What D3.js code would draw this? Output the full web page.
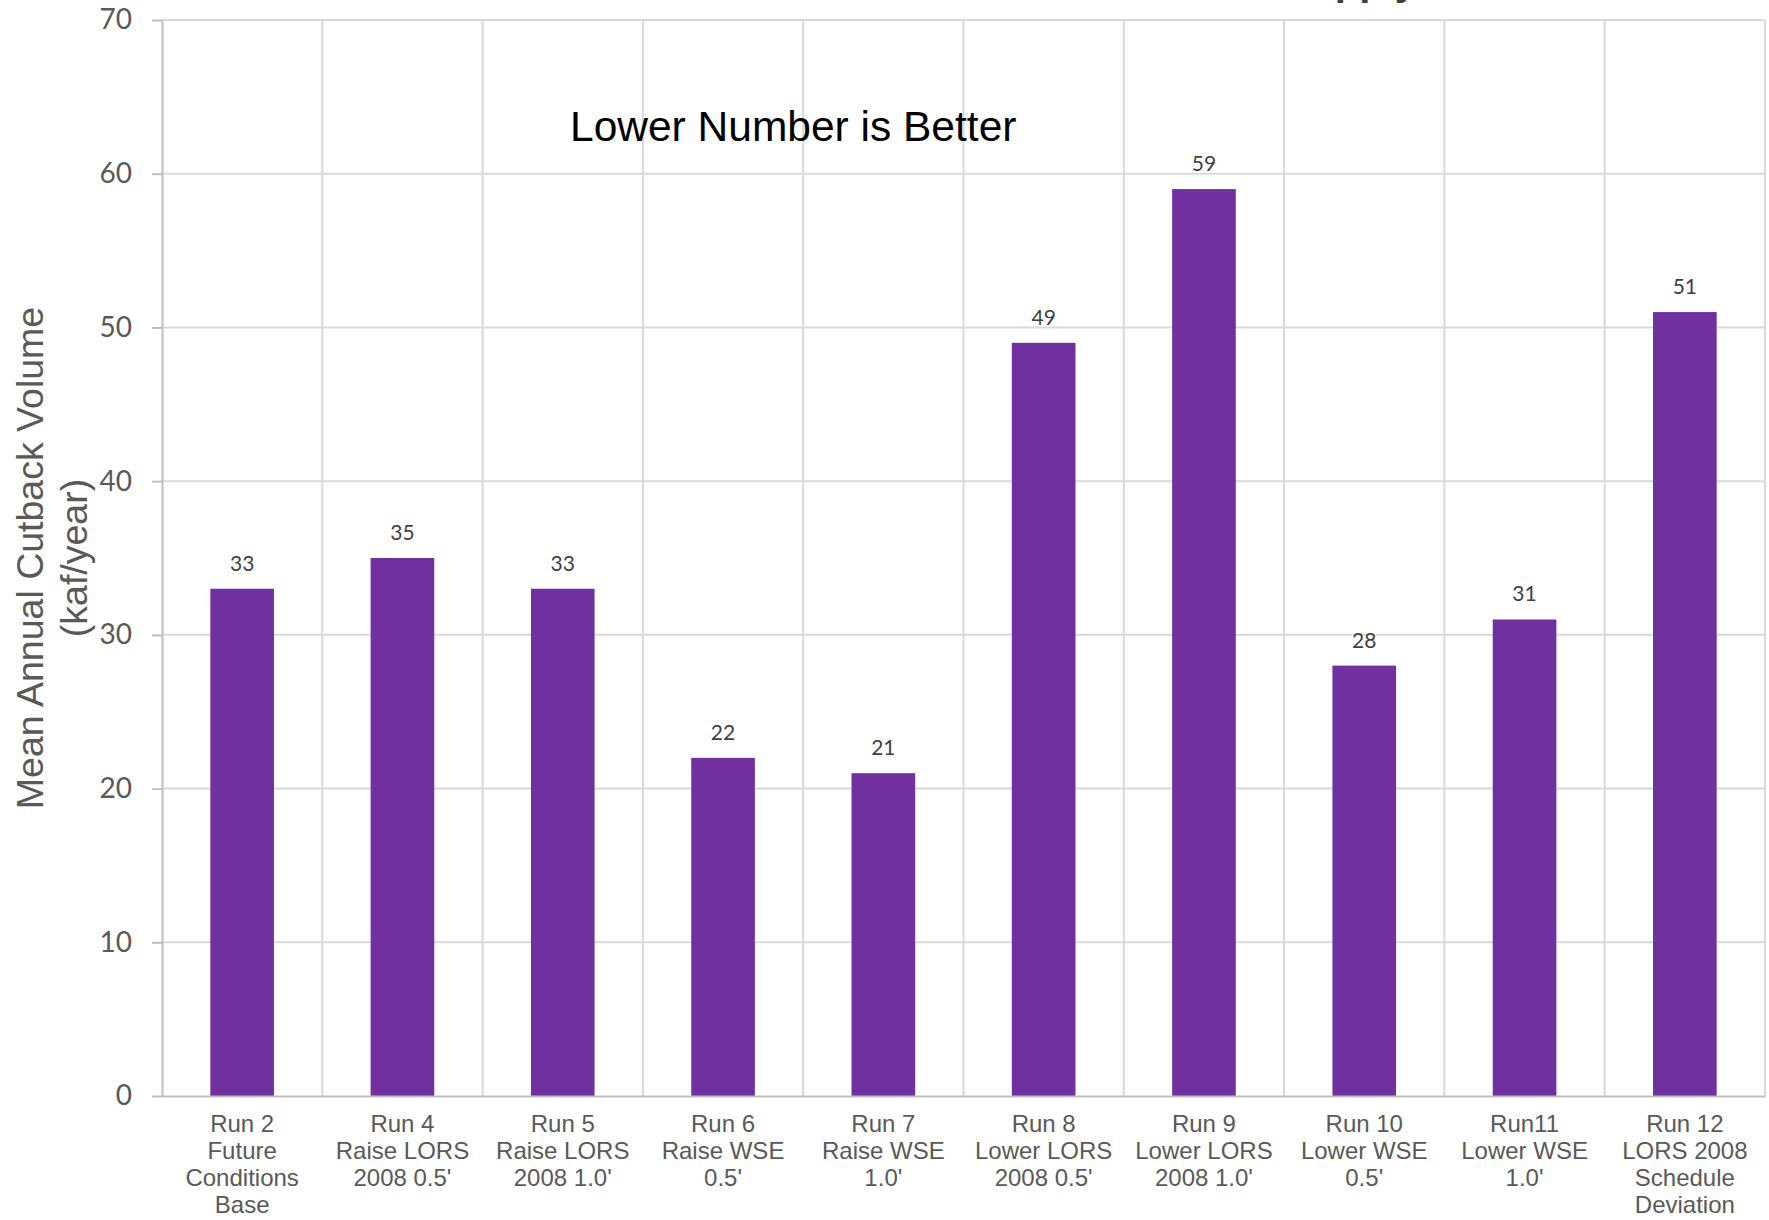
<!DOCTYPE html>
<html>
<head>
<meta charset="utf-8">
<script src="https://cdn.jsdelivr.net/npm/d3@7/dist/d3.min.js"></script>
<style>
  html, body { margin: 0; padding: 0; background: #ffffff; }
  svg { display: block; }
</style>
</head>
<body>
<svg id="chart" width="1769" height="1220"></svg>
<script>
// Scenario runs (multi-line category labels)
const runLabels = [
  ["Run 2", "Future", "Conditions", "Base"],
  ["Run 4", "Raise LORS", "2008 0.5'"],
  ["Run 5", "Raise LORS", "2008 1.0'"],
  ["Run 6", "Raise WSE", "0.5'"],
  ["Run 7", "Raise WSE", "1.0'"],
  ["Run 8", "Lower LORS", "2008 0.5'"],
  ["Run 9", "Lower LORS", "2008 1.0'"],
  ["Run 10", "Lower WSE", "0.5'"],
  ["Run11", "Lower WSE", "1.0'"],
  ["Run 12", "LORS 2008", "Schedule", "Deviation"]
];

// Mean annual cutback volume, kaf/year
const cutbackValues = [33, 35, 33, 22, 21, 49, 59, 28, 31, 51];

// Value axis ticks
const yTickValues = [0, 10, 20, 30, 40, 50, 60, 70];

const chartTitle = "Lake Okeechobee Service Area Water Supply";
const note = "Lower Number is Better";
const yTitleLines = ["Mean Annual Cutback Volume", "(kaf/year)"];

const svg = d3.select("#chart");

const plot = { left: 162, right: 1765, top: 20, bottom: 1096 };
const ids = runLabels.map((d, i) => i);

const x = d3.scaleBand().domain(ids).range([plot.left, plot.right]).padding(0);
const y = d3.scaleLinear().domain([0, 70]).range([plot.bottom, plot.top]);

const barFrac = 0.397;
const barW = x.bandwidth() * barFrac;

// Title (sits at the very top edge)
svg.append("text")
  .attr("x", 1417).attr("y", -5)
  .attr("text-anchor", "end")
  .attr("font-family", "Liberation Sans, Arial, sans-serif")
  .attr("font-weight", "bold")
  .attr("font-size", 40)
  .attr("fill", "#404040")
  .text(chartTitle);

// Horizontal gridlines
svg.append("g")
  .selectAll("line")
  .data(yTickValues.filter(v => v > 0))
  .join("line")
  .attr("x1", plot.left).attr("x2", plot.right)
  .attr("y1", d => y(d)).attr("y2", d => y(d))
  .attr("stroke", "#d9d9d9").attr("stroke-width", 2);

// Vertical gridlines at category boundaries
const bounds = ids.slice(1).map(i => x(i)).concat([plot.right]);
svg.append("g")
  .selectAll("line")
  .data(bounds)
  .join("line")
  .attr("x1", d => d).attr("x2", d => d)
  .attr("y1", plot.top).attr("y2", plot.bottom)
  .attr("stroke", "#d9d9d9").attr("stroke-width", 2);

// Bars
svg.append("g")
  .selectAll("rect")
  .data(cutbackValues)
  .join("rect")
  .attr("x", (d, i) => x(i) + (x.bandwidth() - barW) / 2)
  .attr("width", barW)
  .attr("y", d => y(d))
  .attr("height", d => y(0) - y(d))
  .attr("fill", "#7030a0");

// Value labels
svg.append("g")
  .selectAll("text")
  .data(cutbackValues)
  .join("text")
  .attr("x", (d, i) => x(i) + x.bandwidth() / 2)
  .attr("y", d => y(d) - 18)
  .attr("text-anchor", "middle")
  .attr("font-family", "Lato, 'Open Sans', sans-serif")
  .attr("font-size", 21)
  .attr("fill", "#404040")
  .text(d => d);

// Y axis
const yAxis = d3.axisLeft(y).tickValues(yTickValues).tickSize(10).tickPadding(20).tickSizeOuter(0);
const gy = svg.append("g")
  .attr("transform", `translate(${plot.left},0)`)
  .call(yAxis);
gy.select(".domain").attr("stroke", "#bfbfbf").attr("stroke-width", 2);
gy.selectAll(".tick line").attr("stroke", "#bfbfbf").attr("stroke-width", 2);
gy.selectAll(".tick text")
  .attr("font-family", "Lato, 'Open Sans', sans-serif")
  .attr("font-size", 28)
  .attr("fill", "#595959");

// X axis baseline
const xAxis = d3.axisBottom(x).tickSize(0).tickFormat("").tickSizeOuter(0);
const gx = svg.append("g")
  .attr("transform", `translate(0,${plot.bottom})`)
  .call(xAxis);
gx.select(".domain").attr("stroke", "#bfbfbf").attr("stroke-width", 2);

// Category labels
const catG = svg.append("g");
runLabels.forEach((lines, i) => {
  const t = catG.append("text")
    .attr("x", x(i) + x.bandwidth() / 2)
    .attr("y", 1132)
    .attr("text-anchor", "middle")
    .attr("font-family", "Liberation Sans, Arial, sans-serif")
    .attr("font-size", 24)
    .attr("fill", "#595959");
  lines.forEach((ln, j) => {
    t.append("tspan")
      .attr("x", x(i) + x.bandwidth() / 2)
      .attr("dy", j === 0 ? 0 : 27)
      .text(ln);
  });
});

// Y axis title
const yt = svg.append("text")
  .attr("transform", `translate(0,${(plot.top + plot.bottom) / 2}) rotate(-90)`)
  .attr("text-anchor", "middle")
  .attr("font-family", "Liberation Sans, Arial, sans-serif")
  .attr("font-size", 37.5)
  .attr("fill", "#595959");
yTitleLines.forEach((ln, j) => {
  yt.append("tspan")
    .attr("x", 0)
    .attr("y", j === 0 ? 43 : 87)
    .text(ln);
});

// Annotation
svg.append("text")
  .attr("x", 570).attr("y", 141)
  .attr("font-family", "Liberation Sans, Arial, sans-serif")
  .attr("font-size", 42.5)
  .attr("fill", "#000000")
  .text(note);
</script>
</body>
</html>
